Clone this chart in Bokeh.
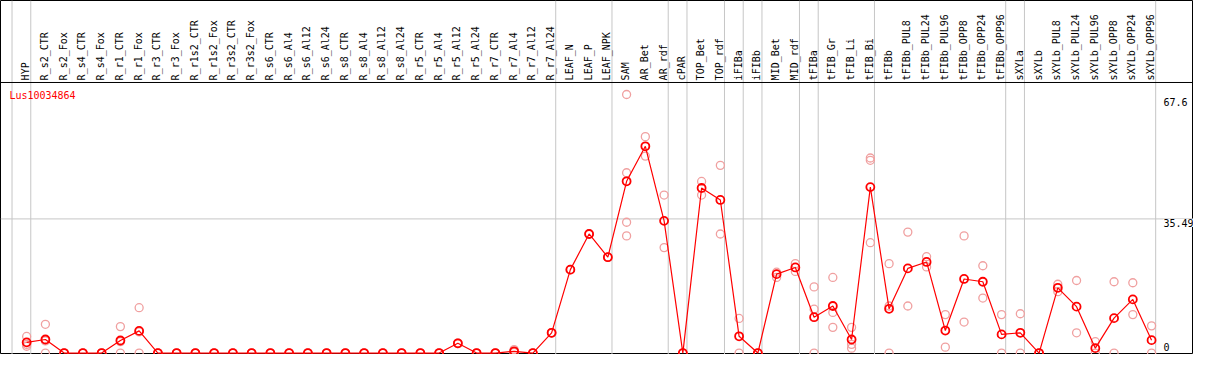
import numpy as np
from bokeh.plotting import figure
from bokeh.models import Range1d, Span, Label
from bokeh.core.properties import value
from bokeh.embed import file_html
from bokeh.resources import INLINE

gene = "Lus10034864"

samples = [
    "HYP", "R_s2_CTR", "R_s2_Fox", "R_s4_CTR", "R_s4_Fox", "R_r1_CTR", "R_r1_Fox",
    "R_r3_CTR", "R_r3_Fox", "R_r1s2_CTR", "R_r1s2_Fox", "R_r3s2_CTR", "R_r3s2_Fox",
    "R_s6_CTR", "R_s6_Al4", "R_s6_Al12", "R_s6_Al24", "R_s8_CTR", "R_s8_Al4",
    "R_s8_Al12", "R_s8_Al24", "R_r5_CTR", "R_r5_Al4", "R_r5_Al12", "R_r5_Al24",
    "R_r7_CTR", "R_r7_Al4", "R_r7_Al12", "R_r7_Al24", "LEAF_N", "LEAF_P", "LEAF_NPK",
    "SAM", "AR_Bet", "AR_rdf", "cPAR", "TOP_Bet", "TOP_rdf", "iFIBa", "iFIBb",
    "MID_Bet", "MID_rdf", "tFIBa", "tFIB_Gr", "tFIB_Li", "tFIB_Bi", "tFIBb",
    "tFIBb_PUL8", "tFIBb_PUL24", "tFIBb_PUL96", "tFIBb_OPP8", "tFIBb_OPP24",
    "tFIBb_OPP96", "sXYLa", "sXYLb", "sXYLb_PUL8", "sXYLb_PUL24", "sXYLb_PUL96",
    "sXYLb_OPP8", "sXYLb_OPP24", "sXYLb_OPP96",
]

means = [
    2.83, 3.59, 0, 0, 0, 3.33, 5.87,
    0, 0, 0, 0, 0, 0,
    0, 0, 0, 0, 0, 0,
    0, 0, 0, 0, 2.58, 0,
    0, 0.46, 0, 5.36, 22.07, 31.5, 25.36,
    45.43, 54.7, 34.97, 0, 43.66, 40.5, 4.43, 0,
    20.88, 22.65, 9.49, 12.45, 3.59, 43.9, 11.7,
    22.4, 24.1, 5.95, 19.6, 18.86,
    4.94, 5.36, 0, 17.26, 12.28, 1.3,
    9.24, 14.2, 3.42,
]

replicates = [
    [4.4, 2.3, 1.8], [7.6, 3.2, 0], [0, 0, 0], [0, 0, 0], [0, 0, 0], [7.0, 3.0, 0], [12.0, 5.6, 0],
    [0, 0, 0], [0, 0, 0], [0, 0, 0], [0, 0, 0], [0, 0, 0], [0, 0, 0],
    [0, 0, 0], [0, 0, 0], [0, 0, 0], [0, 0, 0], [0, 0, 0], [0, 0, 0],
    [0, 0, 0], [0, 0, 0], [0, 0, 0], [0, 0, 0], [2.6, 2.6, 2.5], [0, 0, 0],
    [0, 0, 0], [0.9, 0.3, 0.2], [0, 0, 0], [5.4, 5.4, 5.3], [22.1, 22.0], [31.5, 31.5], [25.4, 25.3],
    [68.4, 47.7, 34.6, 31.0], [57.25, 52.1], [41.8, 27.9], [0, 0], [45.4, 41.8], [49.66, 31.5], [9.16, 0], [0, 0],
    [21.4, 20.0], [23.66, 21.6], [17.5, 11.6, 0], [20.0, 10.76, 6.8], [6.8, 2.3, 1.3], [51.6, 51.0, 29.2], [23.66, 12.45, 0],
    [32.0, 12.45], [25.5, 22.8], [10.17, 1.57], [31.0, 8.2], [23.1, 14.55],
    [10.17, 0], [10.4, 0], [0, 0], [18.2, 16.25], [19.2, 5.36], [3.0, 0],
    [18.86, 0], [18.6, 10.17], [7.2, 0],
]

# index of the first sample of each group (last entry = end of the samples)
group_starts = [0, 1, 29, 32, 35, 36, 38, 39, 40, 42, 43, 46, 53, 54, 61]

y_ticks = [0, 35.49, 67.6]
y_tick_labels = ["0", "35.49", "67.6"]

# ---- layout (reference pixel geometry) ----
REF_W, REF_H = 1209, 370
X0_PX, STEP_PX = 26.5, 19.0       # first sample centre, column width
Y0_PX, PX_PER_UNIT = 368.5, 3.951  # baseline pixel, pixels per expression unit


def ypx(py):
    return (Y0_PX - py) / PX_PER_UNIT


def xpx(px):
    return (px - X0_PX) / STEP_PX


MONO = "DejaVu Sans Mono"

p = figure(
    width=1193, height=354,
    x_range=Range1d(xpx(0), xpx(REF_W)),
    y_range=Range1d(ypx(REF_H), ypx(0)),
    x_axis_location=None, y_axis_location=None,
    toolbar_location=None, output_backend="svg",
    min_border=0, outline_line_color="black", outline_line_width=1,
    background_fill_color="white", border_fill_color="white",
)
p.xgrid.visible = False
p.ygrid.visible = False

idx = np.arange(len(samples))

# group separator lines
for k in group_starts:
    p.add_layout(Span(location=k - 0.78, dimension="height",
                      line_color="#c6c6c6", line_width=1, level="underlay"))

# mid reference line
p.add_layout(Span(location=y_ticks[1], dimension="width",
                  line_color="#c6c6c6", line_width=1, level="underlay"))

# separator between label header and plot body
p.add_layout(Span(location=ypx(85.7), dimension="width",
                  line_color="black", line_width=1, level="underlay"))

# sample labels (vertical)
p.text(x=idx - 0.05, y=ypx(83.5), text=samples, angle=np.pi / 2,
       text_align="left", text_baseline="middle",
       text_font=value(MONO), text_font_size="10px", text_color="black")

# replicate points
rx = [i for i, reps in enumerate(replicates) for _ in reps]
ry = [v for reps in replicates for v in reps]
p.scatter(rx, ry, marker="circle", size=8, fill_color=None,
          line_color="#f0a0a0", line_width=1.3)

# mean line + points
p.line(idx, means, line_color="#ff0000", line_width=1.2)
p.scatter(idx, means, marker="circle", size=8, fill_color=None,
          line_color="#ff0000", line_width=1.8)

# gene name
p.add_layout(Label(x=xpx(9), y=ypx(99), text=gene, text_color="#ff0000",
                   text_font=MONO, text_font_size="10px", text_baseline="middle"))

# value labels on the right
for v, lab in zip(y_ticks, y_tick_labels):
    if v > 0:
        yy, base = v, "top"
    else:
        yy, base = ypx(366.5), "bottom"
    p.add_layout(Label(x=xpx(1178.5), y=yy, text=lab, text_color="black",
                       text_font=MONO, text_font_size="10px", text_baseline=base,
                       background_fill_color="white"))

open("out.html", "w").write(file_html(p, INLINE))
